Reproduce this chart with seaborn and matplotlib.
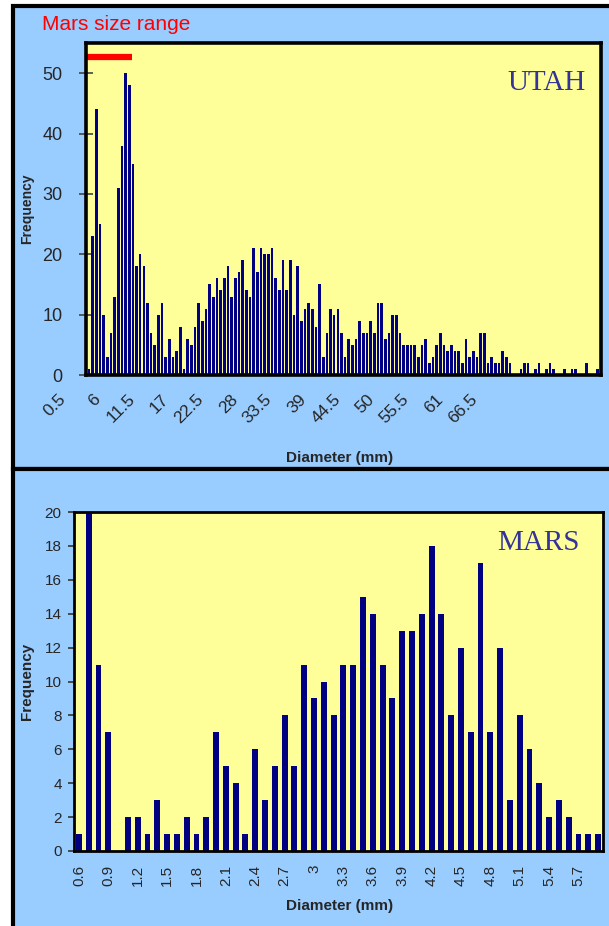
import numpy as np
import matplotlib
matplotlib.use("Agg")
import matplotlib.pyplot as plt
import matplotlib.transforms as mtrans
from matplotlib.patches import Rectangle
import seaborn as sns

# Utah clast sizes: counts per 0.5 mm bin starting at 0.5 mm
utah_start, utah_step = 0.5, 0.5
utah_counts = [1, 23, 44, 25, 10, 3, 7, 13, 31, 38, 50, 48, 35, 18, 20, 18, 12, 7, 5, 10,
               12, 3, 6, 3, 4, 8, 1, 6, 5, 8, 12, 9, 11, 15, 13, 16, 14, 16, 18, 13,
               16, 17, 19, 14, 13, 21, 17, 21, 20, 20, 21, 16, 14, 19, 14, 19, 10, 18, 9, 11,
               12, 11, 8, 15, 3, 7, 11, 10, 11, 7, 3, 6, 5, 6, 9, 7, 7, 9, 7, 12,
               12, 6, 7, 10, 10, 7, 5, 5, 5, 5, 3, 5, 6, 2, 3, 5, 7, 5, 4, 5,
               4, 4, 2, 6, 3, 4, 3, 7, 7, 2, 3, 2, 2, 4, 3, 2, 0, 0, 1, 2,
               2, 0, 1, 2, 0, 1, 2, 1, 0, 0, 1, 0, 1, 1, 0, 0, 2, 0, 0, 1]
utah_yticks = [0, 10, 20, 30, 40, 50]
utah_xticklabels = ["0.5", "6", "11.5", "17", "22.5", "28", "33.5", "39", "44.5",
                    "50", "55.5", "61", "66.5"]

# Mars clast sizes: counts per 0.1 mm bin starting at 0.6 mm
mars_start, mars_step = 0.6, 0.1
mars_counts = [1, 20, 11, 7, 0, 2, 2, 1, 3, 1, 1, 2, 1, 2, 7, 5, 4, 1, 6, 3,
               5, 8, 5, 11, 9, 10, 8, 11, 11, 15, 14, 11, 9, 13, 13, 14, 18, 14, 8, 12,
               7, 17, 7, 12, 3, 8, 6, 4, 2, 3, 2, 1, 1, 1]
mars_yticks = list(range(0, 21, 2))

# red bar on the Utah panel marking the Mars size range (mm)
mars_range_mm = [0.1, 6.35]

navy = "#000080"
yellow = "#FFFF99"
sky = "#99CCFF"

sns.set_style("ticks")
plt.rcParams["font.family"] = ["Liberation Sans", "DejaVu Sans"]

utah_labels = [f"{utah_start + i * utah_step:g}" for i in range(len(utah_counts))]
mars_labels = [f"{round(mars_start + i * mars_step, 1):g}" for i in range(len(mars_counts))]

fig = plt.figure(figsize=(6.09, 9.26), dpi=100, facecolor="white")

# panel backgrounds with heavy black frames
for (y0, y1) in [(6, 469), (469, 935)]:
    fig.add_artist(Rectangle((13 / 609, 1 - y1 / 926), 610 / 609, (y1 - y0) / 926,
                             transform=fig.transFigure, facecolor=sky,
                             edgecolor="black", linewidth=3, zorder=-10))

ax1 = fig.add_axes([86 / 609, 1 - 375 / 926, 515 / 609, 332 / 926])
ax2 = fig.add_axes([73.5 / 609, 1 - 851 / 926, 529.5 / 609, 339 / 926])

# ---- Utah ----
sns.barplot(x=utah_labels, y=utah_counts, color=navy, saturation=1, width=0.72,
            errorbar=None, linewidth=0, ax=ax1)
ax1.set_facecolor(yellow)
ax1.set_xlim(-0.8, len(utah_counts) - 0.1)
ax1.set_ylim(0, 55)
ax1.set_yticks(utah_yticks)
# the category labels in the original are spread a little tighter than the bars
label_gap = 9.37
ax1.set_xticks(np.arange(len(utah_xticklabels)) * label_gap)
ax1.set_xticklabels(utah_xticklabels, rotation=45, ha="right")
ax1.tick_params(axis="x", length=0, pad=12, labelsize=12.5)
ax1.tick_params(axis="y", direction="inout", length=10, width=1.2, color="#444444",
                labelsize=13, pad=12)
shift = mtrans.ScaledTranslation(-20 / 100, 0, fig.dpi_scale_trans)
for tk in ax1.xaxis.get_major_ticks():
    tk.label1.set_transform(tk.label1.get_transform() + shift)
for s in ax1.spines.values():
    s.set_visible(True)
    s.set_color("black")
    s.set_linewidth(2.6)
ax1.set_xlabel("Diameter (mm)", fontsize=11, fontweight="bold")
ax1.set_ylabel("Frequency", fontsize=10, fontweight="bold")
ax1.xaxis.set_label_coords(0.493, -0.23)
ax1.yaxis.set_label_coords(-0.101, 0.5)

rng = [(v - utah_start) / utah_step for v in mars_range_mm]
ax1.plot(rng, [52.6, 52.6], color="red", lw=4.5, solid_capstyle="butt", clip_on=False)
ax1.text(0.971, 0.858, "UTAH", transform=ax1.transAxes, ha="right", va="baseline",
         fontsize=21, color="#333399", family=["Liberation Serif", "DejaVu Serif"])
fig.text(42 / 609, 1 - 30 / 926, "Mars size range", color="red", fontsize=15,
         va="baseline", ha="left")

# ---- Mars ----
sns.barplot(x=mars_labels, y=mars_counts, color=navy, saturation=1, width=0.6,
            errorbar=None, linewidth=0, ax=ax2)
ax2.set_facecolor(yellow)
ax2.set_xlim(-0.55, len(mars_counts) - 0.5)
ax2.set_ylim(0, 20)
ax2.set_yticks(mars_yticks)
ax2.set_xticks(range(0, len(mars_labels), 3))
ax2.set_xticklabels(mars_labels[::3], rotation=90)
ax2.tick_params(axis="x", length=0, pad=10, labelsize=11)
ax2.tick_params(axis="y", direction="out", length=4.5, width=1.2, color="#333333",
                labelsize=11, pad=4)
for s in ax2.spines.values():
    s.set_visible(True)
    s.set_color("black")
    s.set_linewidth(2)
ax2.set_xlabel("Diameter (mm)", fontsize=11, fontweight="bold")
ax2.set_ylabel("Frequency", fontsize=11, fontweight="bold")
ax2.xaxis.set_label_coords(0.503, -0.142)
ax2.yaxis.set_label_coords(-0.0746, 0.5)
ax2.text(0.955, 0.888, "MARS", transform=ax2.transAxes, ha="right", va="baseline",
         fontsize=21, color="#333399", family=["Liberation Serif", "DejaVu Serif"])

fig.savefig("out.png", dpi=100, facecolor=fig.get_facecolor())
